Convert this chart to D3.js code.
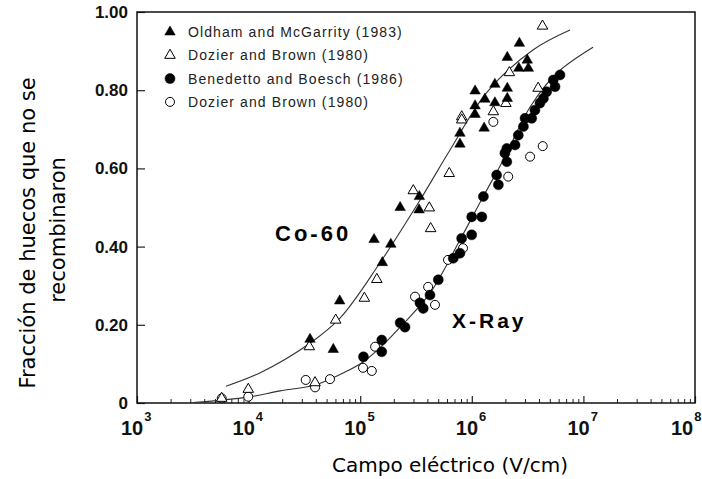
<!DOCTYPE html>
<html>
<head>
<meta charset="utf-8">
<script src="https://cdn.jsdelivr.net/npm/d3@7/dist/d3.min.js"></script>
<style>
	body { margin: 0; background: #fff; }
	svg { display: block; }
</style>
</head>
<body>
<svg id="chart" width="702" height="479"></svg>
<script>
// Co-60, Oldham and McGarrity (1983) - filled triangles
const oldham = [
	[2.28e5, 0.50], [1.33e5, 0.418], [1.88e5, 0.406], [1.58e5, 0.359], [3.39e5, 0.528],
	[3.37e5, 0.494], [6.55e4, 0.261], [3.55e4, 0.163], [5.74e4, 0.137],
	[2.67e6, 0.920], [2.08e6, 0.884], [3.14e6, 0.877], [3.21e6, 0.856], [2.64e6, 0.856],
	[1.61e6, 0.815], [2.08e6, 0.805], [2.08e6, 0.779], [1.07e6, 0.798], [1.31e6, 0.777],
	[1.61e6, 0.768], [1.07e6, 0.760], [1.07e6, 0.738], [1.29e6, 0.703], [7.83e5, 0.690],
	[7.83e5, 0.662]
];
// Co-60, Dozier and Brown (1980) - open triangles
const dozierCo = [
	[6.28e5, 0.587], [2.99e5, 0.543], [4.16e5, 0.499], [4.28e5, 0.446], [1.41e5, 0.316],
	[1.09e5, 0.268], [6.03e4, 0.212], [3.50e4, 0.144], [3.94e4, 0.052], [9.93e3, 0.035],
	[5.74e3, 0.012], [4.30e6, 0.964], [2.17e6, 0.845], [3.93e6, 0.805], [2.02e6, 0.766],
	[1.56e6, 0.745], [8.12e5, 0.732], [8.12e5, 0.724]
];
// X-Ray, Benedetto and Boesch (1986) - filled circles
const benedetto = [
	[6.17e6, 0.839], [5.37e6, 0.826], [5.57e6, 0.809], [4.69e6, 0.796], [4.38e6, 0.779],
	[4.08e6, 0.767], [3.68e6, 0.749], [3.44e6, 0.728], [3.00e6, 0.728], [2.90e6, 0.707],
	[2.61e6, 0.685], [2.44e6, 0.660], [2.06e6, 0.651], [1.98e6, 0.639], [2.06e6, 0.617],
	[1.67e6, 0.583], [1.73e6, 0.558], [1.27e6, 0.528], [9.98e5, 0.476], [1.23e6, 0.476],
	[9.98e5, 0.430], [8.11e5, 0.421], [7.83e5, 0.383], [6.82e5, 0.370], [5.01e5, 0.315],
	[4.22e5, 0.276], [3.67e5, 0.242], [3.43e5, 0.256], [2.28e5, 0.205], [2.52e5, 0.194],
	[1.56e5, 0.161], [1.56e5, 0.131], [1.07e5, 0.118]
];
// X-Ray, Dozier and Brown (1980) - open circles
const dozierX = [
	[4.32e6, 0.657], [3.33e6, 0.630], [2.12e6, 0.579], [1.56e6, 0.719], [8.34e5, 0.396],
	[6.12e5, 0.366], [4.06e5, 0.297], [3.10e5, 0.272], [4.68e5, 0.251], [1.36e5, 0.144],
	[1.06e5, 0.090], [1.27e5, 0.082], [5.36e4, 0.061], [3.25e4, 0.059], [3.94e4, 0.040],
	[9.93e3, 0.016], [5.74e3, 0.012]
];
// fitted curves
const curveCo = [
	[6.27e3, 0.043], [1.26e4, 0.077], [3.55e4, 0.153], [6.59e4, 0.217], [1.50e5, 0.358],
	[3.44e5, 0.519], [6.38e5, 0.647], [1.37e6, 0.795], [3.53e6, 0.903], [7.59e6, 0.954]
];
const curveX = [
	[3.18e3, 0.001], [9.89e3, 0.015], [1.91e4, 0.031], [3.94e4, 0.046], [7.31e4, 0.079],
	[1.06e5, 0.105], [1.50e5, 0.141], [2.28e5, 0.194], [4.22e5, 0.281], [7.83e5, 0.417],
	[1.26e6, 0.527], [1.91e6, 0.621], [3.33e6, 0.757], [5.79e6, 0.844], [1.22e7, 0.910]
];

const legendNames = ['Oldham and McGarrity (1983)', 'Dozier and Brown (1980)',
	'Benedetto and Boesch (1986)', 'Dozier and Brown (1980)'];
const xTicks = [1e3, 1e4, 1e5, 1e6, 1e7, 1e8];
const xExp = ['3', '4', '5', '6', '7', '8'];
const yTicks = [0, 0.2, 0.4, 0.6, 0.8, 1.0];
const yTickLabels = ['0', '0.20', '0.40', '0.60', '0.80', '1.00'];

const svg = d3.select('#chart');
const x = d3.scaleLog().domain([1e3, 1e8]).range([137, 695]);
const y = d3.scaleLinear().domain([0, 1]).range([403, 12]);

// minor ticks 2..9 in every decade
const minor = [];
xTicks.slice(0, -1).forEach(d => { for (let k = 2; k < 10; k++) minor.push(d * k); });

svg.append('g')
	.attr('transform', 'translate(0,403)')
	.call(d3.axisBottom(x).tickValues(minor).tickSize(-4).tickFormat(''))
	.call(g => g.select('.domain').remove())
	.selectAll('line').attr('stroke', '#222');

svg.append('g')
	.attr('transform', 'translate(0,403)')
	.call(d3.axisBottom(x).tickValues(xTicks).tickSize(-7).tickFormat(''))
	.call(g => g.select('.domain').remove())
	.selectAll('line').attr('stroke', '#222').attr('stroke-width', 1.2);

// decade labels 10^n (the last one pulled in so it stays on the page)
const xl = svg.append('g').selectAll('text')
	.data(xTicks)
	.join('text')
	.attr('x', (d, i) => x(d) - (i === xTicks.length - 1 ? 24 : 16))
	.attr('y', 435)
	.attr('font-family', 'Liberation Sans, Arial, sans-serif')
	.attr('font-weight', 'bold')
	.attr('font-size', 20)
	.attr('fill', '#111');
xl.append('tspan').text('10');
xl.append('tspan')
	.attr('dy', -14)
	.attr('dx', 1)
	.attr('font-size', 13)
	.text((d, i) => xExp[i]);

svg.append('g')
	.call(d3.axisLeft(y).tickValues(yTicks).tickSize(-8).tickPadding(9)
		.tickFormat((d, i) => yTickLabels[i]))
	.attr('transform', 'translate(137,0)')
	.call(g => g.select('.domain').remove())
	.call(g => g.selectAll('line').attr('stroke', '#222').attr('stroke-width', 1.2))
	.call(g => g.selectAll('text')
		.attr('font-family', 'Liberation Sans, Arial, sans-serif')
		.attr('font-weight', 'bold')
		.attr('font-size', 17)
		.attr('fill', '#111'));

// frame
svg.append('rect')
	.attr('x', 137).attr('y', 12)
	.attr('width', 558).attr('height', 391)
	.attr('fill', 'none')
	.attr('stroke', '#111')
	.attr('stroke-width', 1.5);

// curves
const line = d3.line()
	.x(d => x(d[0]))
	.y(d => y(d[1]))
	.curve(d3.curveCatmullRom);

[curveCo, curveX].forEach(c => {
	svg.append('path')
		.attr('d', line(c))
		.attr('fill', 'none')
		.attr('stroke', '#333')
		.attr('stroke-width', 1.1);
});

const tri = d3.symbol(d3.symbolTriangle, 48);

function drawTriangles(data, filled) {
	svg.append('g').selectAll('path')
		.data(data)
		.join('path')
		.attr('d', tri)
		.attr('transform', d => `translate(${x(d[0])},${y(d[1])})`)
		.attr('fill', filled ? '#000' : '#fff')
		.attr('stroke', '#000')
		.attr('stroke-width', filled ? 0.5 : 1);
}

function drawCircles(data, filled) {
	svg.append('g').selectAll('circle')
		.data(data)
		.join('circle')
		.attr('cx', d => x(d[0]))
		.attr('cy', d => y(d[1]))
		.attr('r', filled ? 5 : 4.5)
		.attr('fill', filled ? '#000' : '#fff')
		.attr('stroke', '#000')
		.attr('stroke-width', filled ? 0.5 : 1);
}

drawCircles(dozierX, false);
drawCircles(benedetto, true);
drawTriangles(dozierCo, false);
drawTriangles(oldham, true);

// legend
const legend = svg.append('g');
legendNames.forEach((name, i) => {
	const ly = 32 + i * 23.3;
	const filled = i % 2 === 0;
	if (i < 2) {
		legend.append('path')
			.attr('d', tri)
			.attr('transform', `translate(170,${ly})`)
			.attr('fill', filled ? '#000' : '#fff')
			.attr('stroke', '#000')
			.attr('stroke-width', filled ? 0.5 : 1);
	} else {
		legend.append('circle')
			.attr('cx', 170).attr('cy', ly)
			.attr('r', filled ? 5 : 4.5)
			.attr('fill', filled ? '#000' : '#fff')
			.attr('stroke', '#000')
			.attr('stroke-width', filled ? 0.5 : 1);
	}
	legend.append('text')
		.attr('x', 188)
		.attr('y', ly + 5)
		.attr('font-family', 'Liberation Sans, Arial, sans-serif')
		.attr('font-size', 14)
		.attr('letter-spacing', 1.1)
		.attr('fill', '#222')
		.text(name);
});

// annotations
svg.append('text')
	.attr('x', 275).attr('y', 241)
	.attr('font-family', 'Liberation Sans, Arial, sans-serif')
	.attr('font-weight', 'bold')
	.attr('font-size', 22)
	.attr('letter-spacing', 3)
	.text('Co-60');

svg.append('text')
	.attr('x', 452).attr('y', 328)
	.attr('font-family', 'Liberation Sans, Arial, sans-serif')
	.attr('font-weight', 'bold')
	.attr('font-size', 21)
	.attr('letter-spacing', 3)
	.text('X-Ray');

// axis titles
svg.append('text')
	.attr('x', 450).attr('y', 472)
	.attr('text-anchor', 'middle')
	.attr('font-family', 'DejaVu Sans, sans-serif')
	.attr('font-size', 20)
	.text('Campo eléctrico (V/cm)');

svg.append('text')
	.attr('transform', 'translate(35,233) rotate(-90)')
	.attr('text-anchor', 'middle')
	.attr('font-family', 'DejaVu Sans, sans-serif')
	.attr('font-size', 21)
	.text('Fracción de huecos que no se');

svg.append('text')
	.attr('transform', 'translate(65,230) rotate(-90)')
	.attr('text-anchor', 'middle')
	.attr('font-family', 'DejaVu Sans, sans-serif')
	.attr('font-size', 21)
	.text('recombinaron');
</script>
</body>
</html>
